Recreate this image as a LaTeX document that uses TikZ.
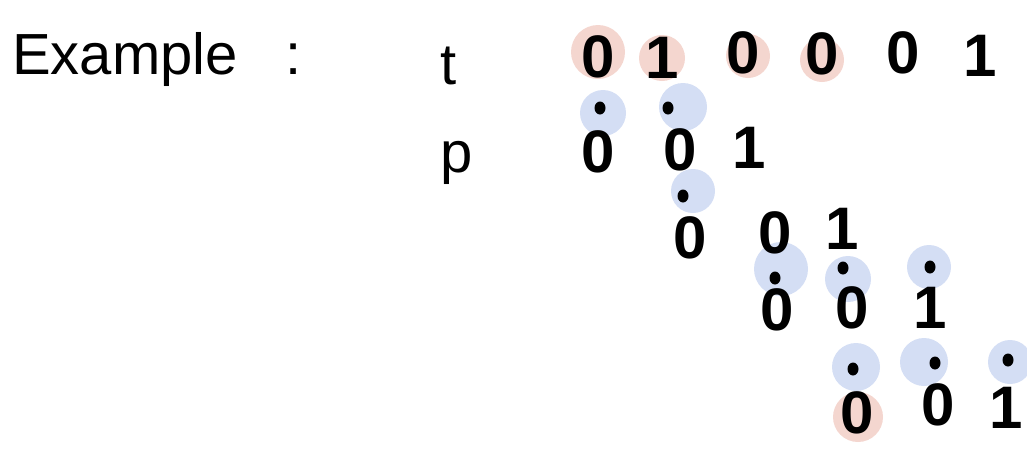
\documentclass[tikz,border=0pt]{standalone}
\usepackage{fontspec}
\setmainfont{Liberation Sans}
\definecolor{hred}{HTML}{F4D6CF}
\definecolor{hblue}{HTML}{D4DEF4}
\tikzset{
  big/.style={font=\fontsize{60}{64}\selectfont\bfseries, inner sep=0pt},
  label/.style={font=\fontsize{58}{64}\selectfont, inner sep=0pt, anchor=base west},
  hr/.style={circle, fill=hred, inner sep=0pt, minimum size=#1},
  hb/.style={circle, fill=hblue, inner sep=0pt, minimum size=#1},
  dotm/.style={ellipse, fill=black, inner sep=0pt, minimum width=11pt, minimum height=13pt},
}
\usetikzlibrary{shapes.geometric}
\begin{document}
\begin{tikzpicture}[x=1pt,y=-1pt]
\useasboundingbox (0,0) rectangle (1027,448);
% highlights
\node[hr=54pt] (r1) at (598,52) {};
\node[hr=46pt] (r2) at (662,58) {};
\node[hr=44pt] (r3) at (748,56) {};
\node[hr=44pt] (r4) at (822,60) {};
\node[hr=50pt] (r5) at (858,417) {};
\node[hb=46pt] (b1) at (603,113) {};
\node[hb=48pt] (b2) at (683,107) {};
\node[hb=44pt] (b3) at (693,191) {};
\node[hb=54pt] (b4) at (781,269) {};
\node[hb=46pt] (b5) at (848,279) {};
\node[hb=44pt] (b6) at (929,267) {};
\node[hb=48pt] (b7) at (856,367) {};
\node[hb=48pt] (b8) at (924,362) {};
\node[hb=44pt] (b9) at (1010,362) {};
% labels
\node[label] (ex) at (12,74) {Example\hspace{48pt}:};
\node[label] (lt) at (440,84) {t};
\node[label] (lp) at (440,172) {p};
% text row
\node[big] (t1) at (598,57) {0};
\node[big] (t2) at (662,58) {1};
\node[big] (t3) at (743,53) {0};
\node[big] (t4) at (822,54) {0};
\node[big] (t5) at (903,53) {0};
\node[big] (t6) at (980,56) {1};
% shift 0
\node[dotm] (d1) at (600,108) {};
\node[dotm] (d2) at (668,108) {};
\node[big] (a1) at (598,152) {0};
\node[big] (a2) at (680,150) {0};
\node[big] (a3) at (749,148) {1};
% shift 1
\node[dotm] (d3) at (683,196) {};
\node[big] (c1) at (690,238) {0};
\node[big] (c2) at (775,233) {0};
\node[big] (c3) at (842,229) {1};
% shift 2
\node[dotm] (d4) at (775,278) {};
\node[dotm] (d5) at (843,268) {};
\node[dotm] (d6) at (930,267) {};
\node[big] (e1) at (777,310) {0};
\node[big] (e2) at (852,308) {0};
\node[big] (e3) at (930,308) {1};
% shift 3
\node[dotm] (d7) at (853,369) {};
\node[dotm] (d8) at (935,363) {};
\node[dotm] (d9) at (1008,360) {};
\node[big] (g1) at (857,413) {0};
\node[big] (g2) at (938,405) {0};
\node[big] (g3) at (1006,408) {1};
\end{tikzpicture}
\end{document}
